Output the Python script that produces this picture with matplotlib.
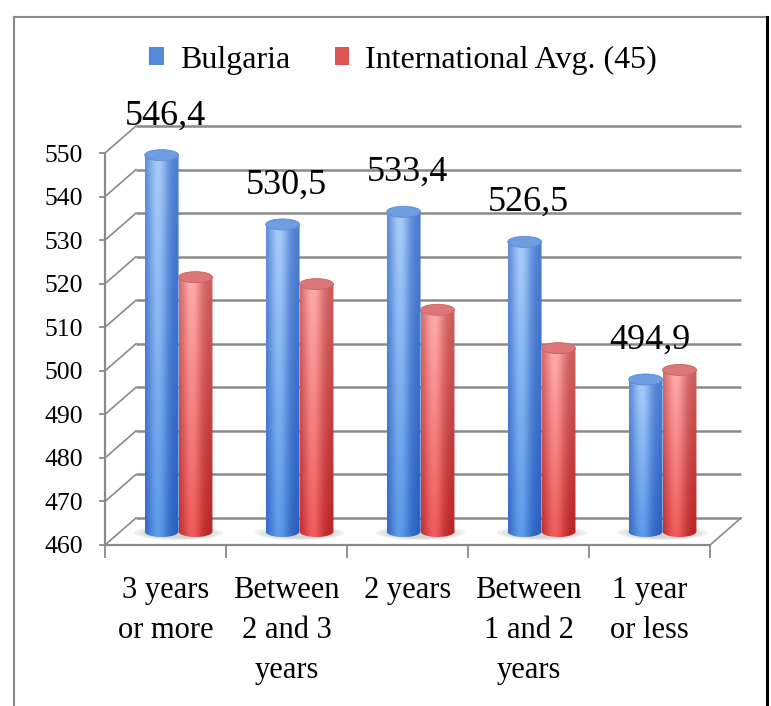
import numpy as np
import matplotlib
matplotlib.use("Agg")
import matplotlib.pyplot as plt
from matplotlib.patches import Ellipse, PathPatch, Patch
from matplotlib.path import Path
from matplotlib.lines import Line2D
from matplotlib.colors import to_rgb

# ---------------- data ----------------
categories = ["3 years\nor more", "Between\n2 and 3\nyears", "2 years",
              "Between\n1 and 2\nyears", "1 year\nor less"]
bulgaria = [546.4, 530.5, 533.4, 526.5, 494.9]
intl_avg = [518.4, 516.8, 510.9, 502.1, 497.1]
series_names = ["Bulgaria", "International Avg. (45)"]
yticks = [460, 470, 480, 490, 500, 510, 520, 530, 540, 550]

# ---------------- style ----------------
FONT = "Liberation Serif"
plt.rcParams["font.family"] = [FONT, "DejaVu Serif"]
GRID = "#8a8a8a"
W, H = 771, 706
fig = plt.figure(figsize=(W / 100, H / 100), dpi=100)
fig.patch.set_facecolor("white")

ax_l, ax_r, ax_top, ax_bot = 105, 710, 153, 545
ax = fig.add_axes([ax_l / W, (H - ax_bot) / H, (ax_r - ax_l) / W, (ax_bot - ax_top) / H])
ymin, ymax = yticks[0], yticks[-1]
n = len(categories)
ax.set_xlim(0, n)
ax.set_ylim(ymin, ymax)
ppx = (ax_r - ax_l) / n
ppy = (ax_bot - ax_top) / (ymax - ymin)
DX = 31 / ppx          # depth offset (data units)
DY = 27 / ppy
RY = 5.5 / ppy         # ellipse half-height

# back wall gridlines + left wall diagonals
for t in yticks:
    ax.plot([DX, n + DX], [t + DY, t + DY], color=GRID, lw=1.8, clip_on=False, zorder=1,
            solid_capstyle="butt")
    ax.plot([0, DX], [t, t + DY], color=GRID, lw=1.2, clip_on=False, zorder=1)
ax.plot([n, n + DX], [ymin, ymin + DY], color=GRID, lw=1.2, clip_on=False, zorder=1)


def lerp(a, b, f):
    a = np.array(to_rgb(a)); b = np.array(to_rgb(b))
    return a + (b - a) * f


def cylinder(xc, w, v, cols, cap, capedge):
    edge_bot, edge_top, hi_bot, hi_top = cols
    x0, x1 = xc - w / 2, xc + w / 2
    y0 = ymin + DY / 2
    y1 = v + DY / 2
    nx, ny = 80, 80
    tx = np.linspace(0, 1, nx)
    prof = np.exp(-((tx - 0.38) / 0.30) ** 2)
    vy = np.linspace(0, 1, ny)[:, None, None]
    e = lerp(edge_bot, edge_top, vy)
    hcol = lerp(hi_bot, hi_top, vy)
    img = e + (hcol - e) * prof[None, :, None]
    img = np.clip(img, 0, 1)
    im = ax.imshow(img, extent=[x0, x1, y0 - RY, y1], origin="lower", aspect="auto",
                   interpolation="bilinear", zorder=3, clip_on=True)
    ang = np.linspace(np.pi, 2 * np.pi, 40)
    verts = [(x0, y1)] + [(xc + w / 2 * np.cos(a), y0 + RY * np.sin(a)) for a in ang] + [(x1, y1), (x0, y1)]
    path = Path(verts)
    clip = PathPatch(path, transform=ax.transData)
    im.set_clip_path(clip)
    ax.add_patch(Ellipse((xc, y1), w, 2 * RY, facecolor=cap, edgecolor=capedge,
                         lw=0.6, zorder=4, clip_on=False))


bw = 0.28
pos_b, pos_r = 0.34, 0.62
blue_cols = ("#2b5fbf", "#4b7dd2", "#5d9ae8", "#a9cdf9")
red_cols = ("#b92424", "#cc5c5c", "#ee5c5c", "#ffacac")

for i in range(n):
    # soft floor shadow
    cx = i + (pos_b + pos_r) / 2 + DX / 2
    for k, a in enumerate([0.12, 0.12, 0.14]):
        ax.add_patch(Ellipse((cx, ymin + DY / 2 - 0.3), 0.74 - 0.08 * k, 2 * RY * (1.3 - 0.15 * k),
                             facecolor="#7f8f80", edgecolor="none", alpha=a, zorder=2))
    cylinder(i + pos_b + DX / 2, bw, bulgaria[i], blue_cols, "#6f9de2", "#5a89d6")
    cylinder(i + pos_r + DX / 2, bw, intl_avg[i], red_cols, "#dd7777", "#c96262")

# value labels (Bulgaria)
for i, v in enumerate(bulgaria):
    ax.annotate(f"{v:.1f}".replace(".", ","), xy=(i + 0.5, v), xytext=(0, 38),
                textcoords="offset points", ha="center", va="center", fontsize=26,
                color="black", annotation_clip=False, zorder=6)

# axes styling
for s in ["top", "right"]:
    ax.spines[s].set_visible(False)
for s in ["left", "bottom"]:
    ax.spines[s].set_color(GRID)
    ax.spines[s].set_linewidth(1.6)
    ax.spines[s].set_zorder(1)
ax.set_facecolor("none")
ax.set_yticks(yticks)
ax.set_yticklabels([str(t) for t in yticks])
ax.tick_params(axis="y", length=4, width=1.3, color=GRID, pad=12, labelsize=18.5)
ax.set_xticks(range(n + 1))
ax.set_xticklabels([""] * (n + 1))
ax.tick_params(axis="x", which="major", length=9, width=1.3, color=GRID)
ax.set_xticks([i + 0.5 for i in range(n)], minor=True)
ax.set_xticklabels(categories, minor=True, fontsize=22, linespacing=1.5)
ax.tick_params(axis="x", which="minor", length=0, pad=22)

# legend
handles = [Patch(facecolor="#5289dd", edgecolor="none"), Patch(facecolor="#dd5555", edgecolor="none")]
fig.legend(handles, series_names, loc="center", bbox_to_anchor=(403 / W, 1 - 60 / H),
           ncol=2, frameon=False, fontsize=23, handlelength=0.45, handleheight=0.5,
           handletextpad=0.5, columnspacing=1.4)

# outer frame
fig.add_artist(Line2D([14 / W, 14 / W], [0, 1 - 17 / H], transform=fig.transFigure, color="#8a8a8a", lw=1.5))
fig.add_artist(Line2D([14 / W, 767 / W], [1 - 17 / H, 1 - 17 / H], transform=fig.transFigure, color="#8a8a8a", lw=1.5))
fig.add_artist(Line2D([767 / W, 767 / W], [0, 1 - 17 / H], transform=fig.transFigure, color="black", lw=2.2))

ax.set_xlim(0, n)
ax.set_ylim(ymin, ymax)
fig.savefig("out.png", dpi=100)
